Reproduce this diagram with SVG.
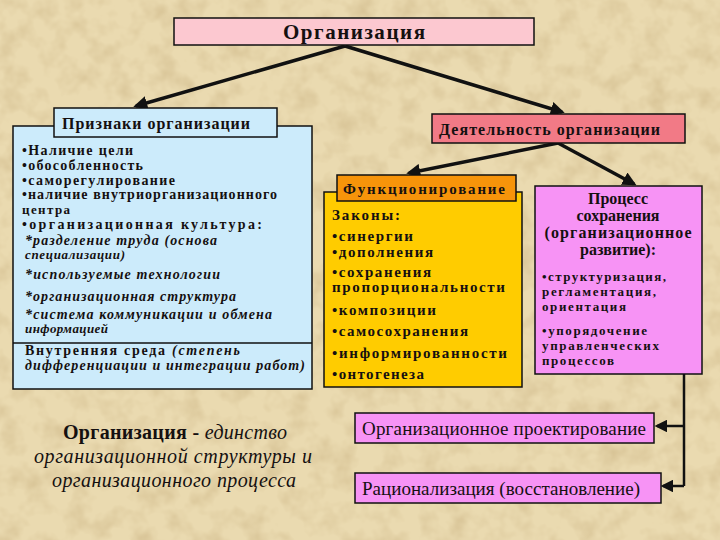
<svg xmlns="http://www.w3.org/2000/svg" width="720" height="540" viewBox="0 0 720 540">
<style>
.box{stroke:#111;stroke-width:1.5}
text{font-family:"Liberation Serif","Times New Roman","DejaVu Serif","Noto Serif",Times,serif;fill:#151010}
.b{font-weight:bold}
.i{font-style:italic}
.c{text-anchor:middle}
.conn{stroke:#111;fill:none}
</style>
<defs>
<marker id="ah" markerWidth="4" markerHeight="4" refX="3.2" refY="2" orient="auto" markerUnits="strokeWidth">
<path d="M0,0 L4,2 L0,4 z" fill="#111"/>
</marker>
<marker id="ah2" markerWidth="5" markerHeight="5" refX="4" refY="2.5" orient="auto" markerUnits="strokeWidth">
<path d="M0,0 L5,2.5 L0,5 z" fill="#111"/>
</marker>
<filter id="tex" x="0" y="0" width="100%" height="100%">
<feTurbulence type="fractalNoise" baseFrequency="0.045" numOctaves="3" seed="7"/>
<feColorMatrix type="matrix" values="0 0 0 0 0.62  0 0 0 0 0.48  0 0 0 0 0.25  1.3 0 0 0 -0.55"/>
</filter>
</defs>
<rect width="720" height="540" fill="#EADAB0"/>
<rect width="720" height="540" filter="url(#tex)"/>

<g id="connectors">
<line class="conn" x1="345" y1="46" x2="136" y2="106" stroke-width="3.5" marker-end="url(#ah)"/>
<line class="conn" x1="345" y1="46" x2="562" y2="112" stroke-width="3.5" marker-end="url(#ah)"/>
<line class="conn" x1="558" y1="143" x2="409" y2="173" stroke-width="3.5" marker-end="url(#ah)"/>
<line class="conn" x1="558" y1="143" x2="634" y2="184" stroke-width="3.5" marker-end="url(#ah)"/>
<polyline class="conn" points="684,374 684,486" stroke-width="2.5"/>
<line class="conn" x1="684" y1="426" x2="657" y2="426" stroke-width="2.5" marker-end="url(#ah2)"/>
<line class="conn" x1="684" y1="486" x2="663" y2="486" stroke-width="2.5" marker-end="url(#ah2)"/>
</g>

<g id="organizaciya">
<rect class="box" x="174" y="18" width="360" height="27" fill="#FCC8D0"/>
<text class="b" x="283" y="39" font-size="21" textLength="142">Организация</text>
</g>

<g id="priznaki">
<rect class="box" x="13" y="126" width="299" height="263" fill="#CCEBFB"/>
<line x1="13" y1="343" x2="312" y2="343" stroke="#111" stroke-width="1.5"/>
<rect class="box" x="54" y="108" width="223" height="29" fill="#CCEBFB"/>
<text class="b" x="62" y="129" font-size="16" textLength="188">Признаки организации</text>
<g class="b" font-size="14">
<text x="22" y="155" textLength="111">•Наличие цели</text>
<text x="22" y="170" textLength="121">•обособленность</text>
<text x="22" y="185" textLength="153">•саморегулирование</text>
<text x="22" y="199" textLength="255">•наличие внутриорганизационного</text>
<text x="22" y="214" font-size="13" textLength="48">центра</text>
<text x="22" y="229" textLength="240">•организационная культура:</text>
</g>
<g class="i b" font-size="14">
<text x="25" y="245" textLength="192">*разделение труда (основа</text>
<text x="25" y="259" font-size="13" textLength="100">специализации)</text>
<text x="25" y="279" textLength="195">*используемые технологии</text>
<text x="25" y="301" textLength="211">*организационная структура</text>
<text x="25" y="319" textLength="247">*система коммуникации и обмена</text>
<text x="25" y="333" font-size="13" textLength="83">информацией</text>
</g>
<text x="25" y="355" font-size="14" textLength="215"><tspan font-weight="bold">Внутренняя среда </tspan><tspan font-style="italic" font-weight="bold">(степень</tspan></text>
<text class="i b" x="25" y="370" font-size="14" textLength="280">дифференциации и интеграции работ)</text>
</g>

<g id="deyatelnost">
<rect class="box" x="432" y="114" width="253" height="29" fill="#F27A86"/>
<text class="b" x="439" y="135" font-size="16" textLength="221">Деятельность организации</text>
</g>

<g id="funkcionirovanie">
<rect class="box" x="324" y="192" width="198" height="195" fill="#FFCC00"/>
<rect class="box" x="337" y="175" width="179" height="26" fill="#F7940A"/>
<text class="b" x="343" y="194" font-size="15" textLength="162">Функционирование</text>
<g class="b" font-size="15">
<text x="332" y="220" textLength="68">Законы:</text>
<text x="332" y="241" textLength="81">•синергии</text>
<text x="332" y="257" textLength="101">•дополнения</text>
<text x="332" y="277" textLength="99">•сохранения</text>
<text x="332" y="292" textLength="173">пропорциональности</text>
<text x="332" y="315" textLength="104">•композиции</text>
<text x="332" y="336" textLength="136">•самосохранения</text>
<text x="332" y="358" textLength="175">•информированности</text>
<text x="332" y="379" textLength="92">•онтогенеза</text>
</g>
</g>

<g id="process">
<rect class="box" x="535" y="186" width="167" height="188" fill="#F793F5"/>
<g class="b c" font-size="16">
<text x="618" y="204">Процесс</text>
<text x="618" y="221">сохранения</text>
<text x="618" y="238" textLength="147">(организационное</text>
<text x="618" y="255">развитие):</text>
</g>
<g class="b" font-size="13">
<text x="542" y="281" textLength="124">•структуризация,</text>
<text x="542" y="296" textLength="114">регламентация,</text>
<text x="542" y="311" textLength="84">ориентация</text>
<text x="542" y="335" textLength="105">•упорядочение</text>
<text x="542" y="350" textLength="117">управленческих</text>
<text x="542" y="365" textLength="72">процессов</text>
</g>
</g>

<g id="proektirovanie">
<rect class="box" x="355" y="413" width="299" height="30" fill="#F793F5"/>
<text x="362" y="435" font-size="19" textLength="284">Организационное проектирование</text>
</g>

<g id="racionalizaciya">
<rect class="box" x="355" y="473" width="306" height="30" fill="#F793F5"/>
<text x="362" y="495" font-size="19" textLength="278">Рационализация (восстановление)</text>
</g>

<g id="definition">
<text x="63" y="439" font-size="20" textLength="224"><tspan font-weight="bold">Организация - </tspan><tspan font-style="italic">единство</tspan></text>
<text class="i" x="34" y="463" font-size="20" textLength="278">организационной структуры и</text>
<text class="i" x="52" y="487" font-size="20" textLength="244">организационного процесса</text>
</g>
</svg>
